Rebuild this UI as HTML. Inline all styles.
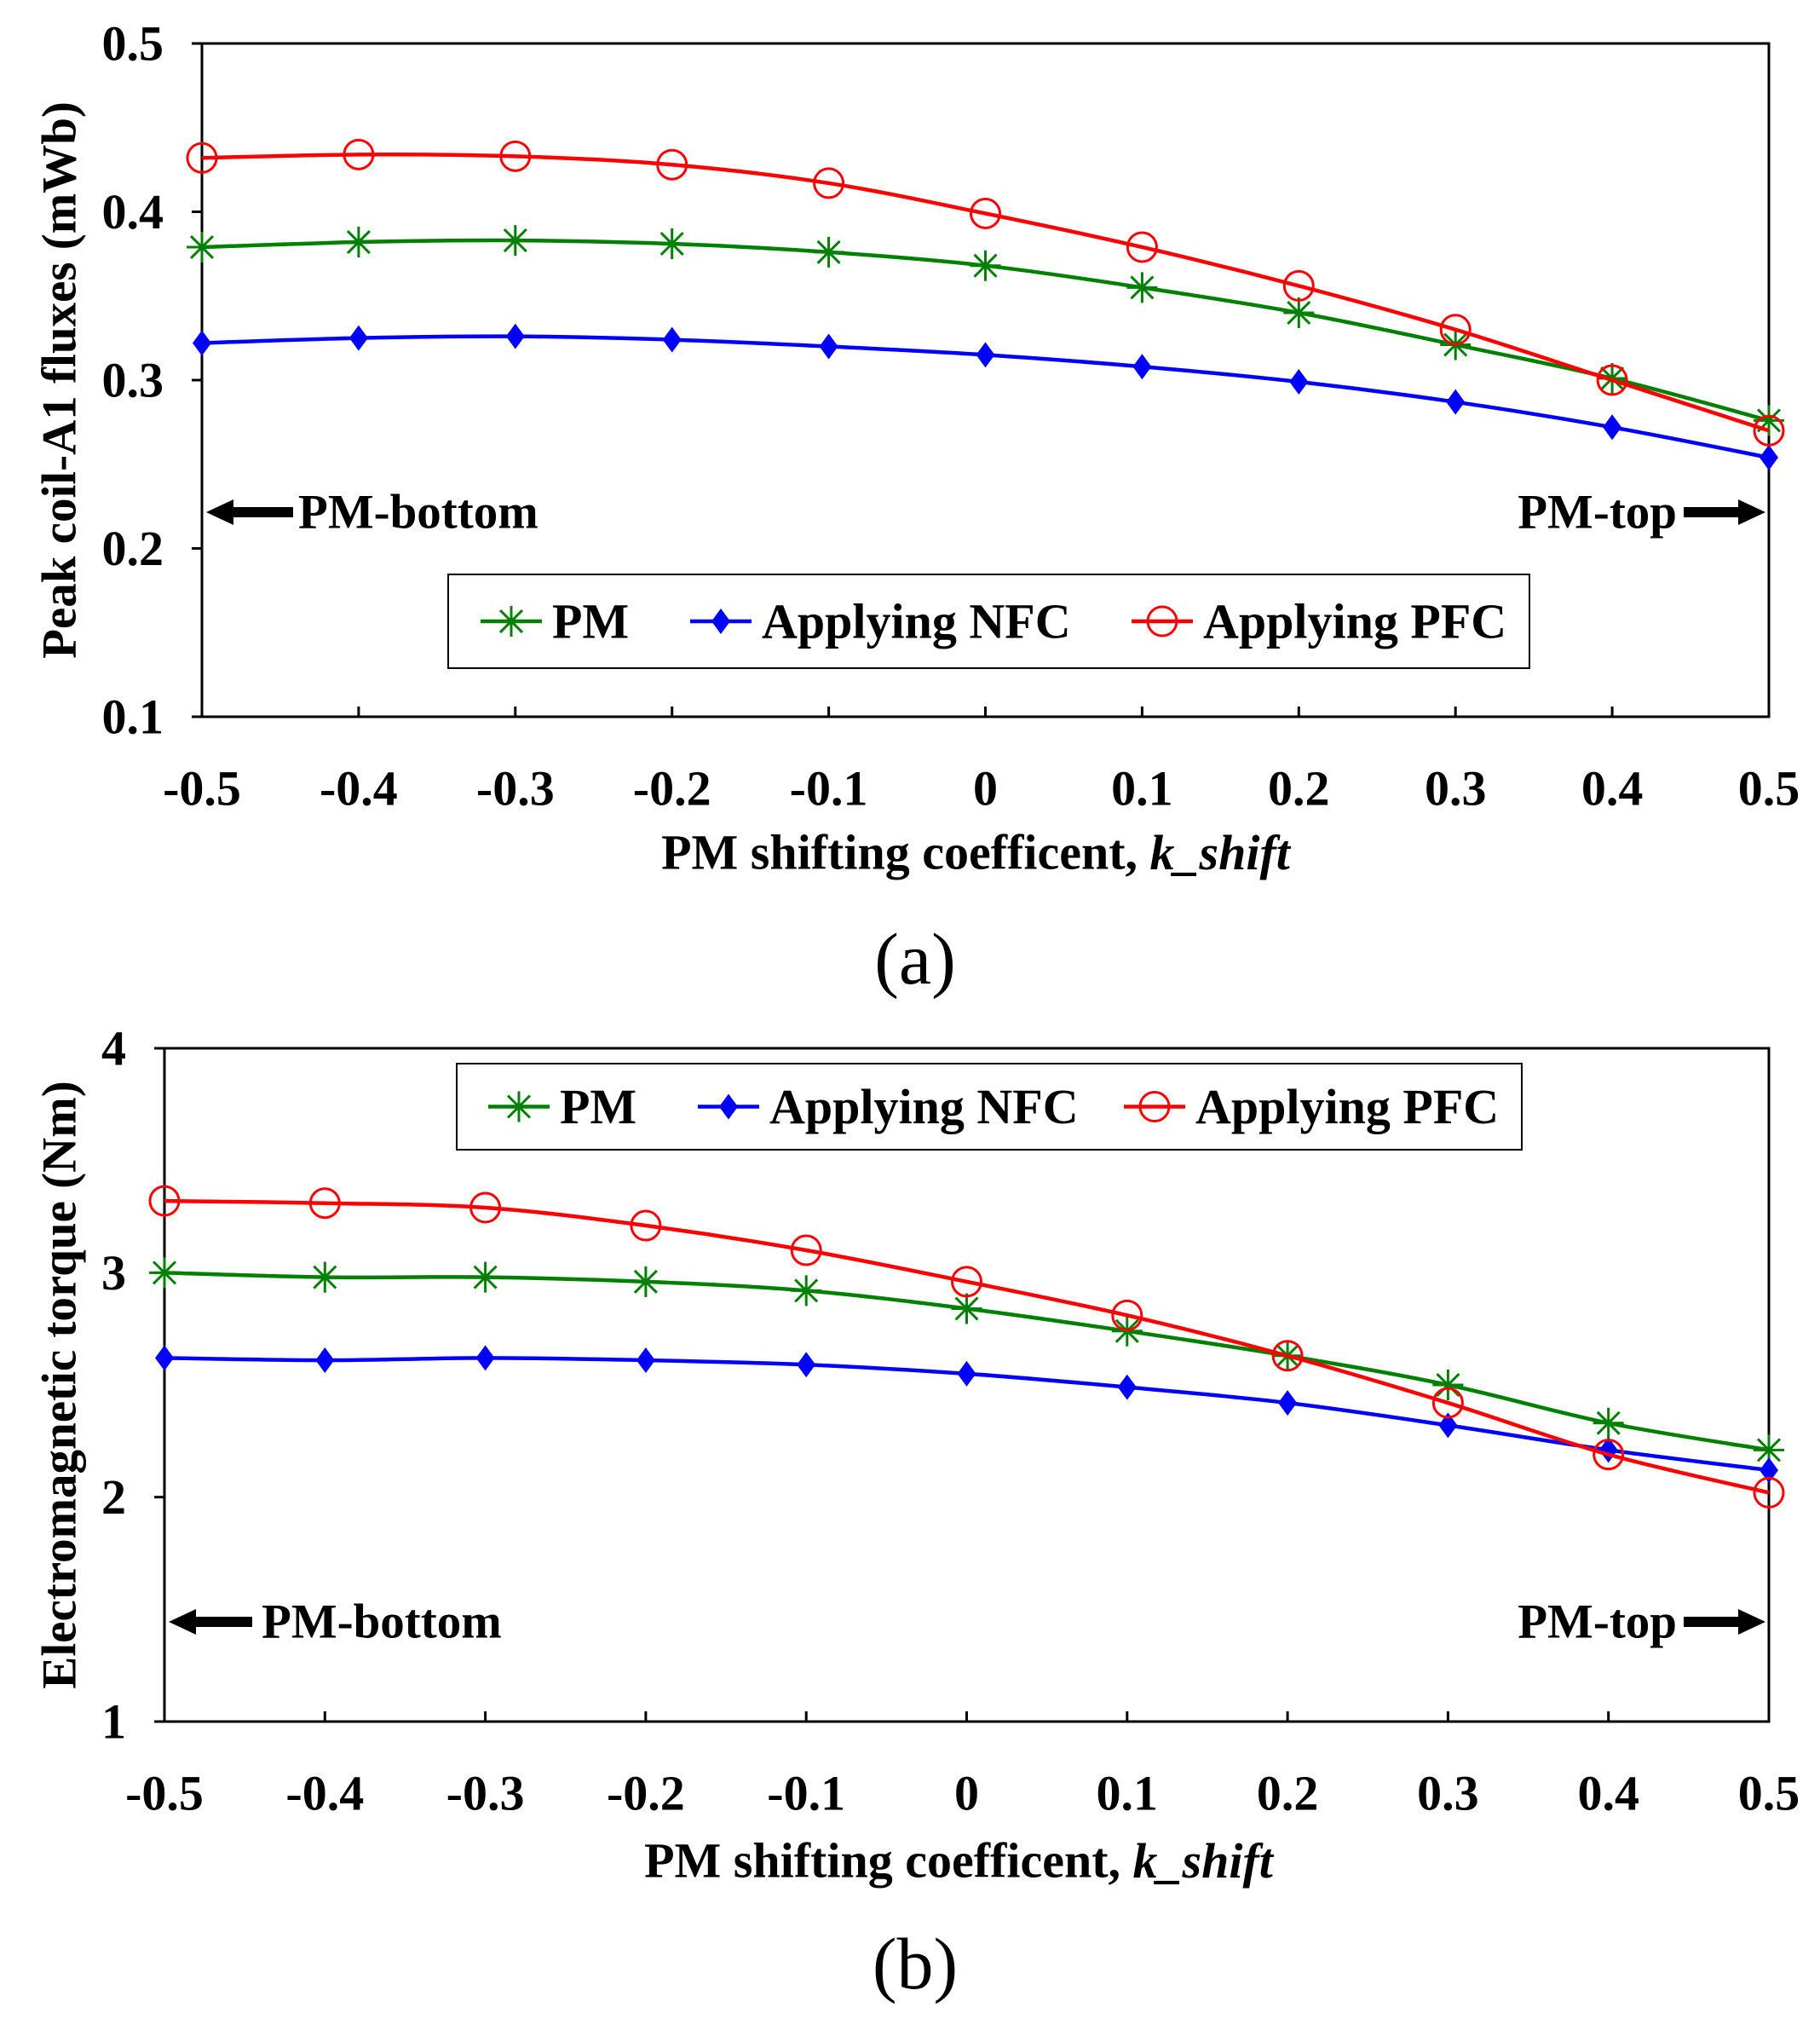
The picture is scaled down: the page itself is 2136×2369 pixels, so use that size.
<!DOCTYPE html>
<html><head><meta charset="utf-8"><style>
body{margin:0;background:#fff}
svg text{font-family:"Liberation Serif",serif;font-weight:bold;fill:#000}
</style></head><body>
<svg id="s" width="2136" height="2364" xmlns="http://www.w3.org/2000/svg"></svg>
<script>
const xCats=[-0.5,-0.4,-0.3,-0.2,-0.1,0,0.1,0.2,0.3,0.4,0.5];
const xTickLabels=["-0.5","-0.4","-0.3","-0.2","-0.1","0","0.1","0.2","0.3","0.4","0.5"];
const aPM=[0.379,0.382,0.383,0.381,0.376,0.368,0.355,0.340,0.321,0.301,0.276];
const aNFC=[0.322,0.325,0.326,0.324,0.320,0.315,0.308,0.299,0.287,0.272,0.254];
const aPFC=[0.432,0.434,0.433,0.428,0.417,0.399,0.379,0.356,0.330,0.300,0.270];
const aYTicks=[0.1,0.2,0.3,0.4,0.5];
const aYTickLabels=["0.1","0.2","0.3","0.4","0.5"];
const bPM=[3.00,2.98,2.98,2.96,2.92,2.84,2.74,2.63,2.50,2.33,2.21];
const bNFC=[2.62,2.61,2.62,2.61,2.59,2.55,2.49,2.42,2.32,2.21,2.12];
const bPFC=[3.32,3.31,3.29,3.21,3.10,2.96,2.81,2.63,2.42,2.19,2.02];
const bYTicks=[1,2,3,4];
const bYTickLabels=["1","2","3","4"];

const svg=document.getElementById('s');
const NS="http://www.w3.org/2000/svg";
function mk(tag,attrs,parent){const e=document.createElementNS(NS,tag);for(const k in attrs)e.setAttribute(k,attrs[k]);(parent||svg).appendChild(e);return e;}
function txt(x,y,s,size,anchor,parent,extra){const t=mk('text',Object.assign({x:x,y:y,'font-size':size,'text-anchor':anchor||'middle','dominant-baseline':'central'},extra||{}),parent);t.textContent=s;return t;}
function smooth(pts){let d='M'+pts[0][0]+','+pts[0][1];for(let i=0;i<pts.length-1;i++){const p0=pts[i-1]||pts[i],p1=pts[i],p2=pts[i+1],p3=pts[i+2]||p2;const c1=[p1[0]+(p2[0]-p0[0])/6,p1[1]+(p2[1]-p0[1])/6],c2=[p2[0]-(p3[0]-p1[0])/6,p2[1]-(p3[1]-p1[1])/6];d+=' C'+c1+' '+c2+' '+p2;}return d;}
function marker(type,x,y,g){
  if(type==='star'){const r=18;const p=mk('path',{d:`M${x-r},${y}H${x+r}M${x},${y-r}V${y+r}M${x-r*0.72},${y-r*0.72}L${x+r*0.72},${y+r*0.72}M${x-r*0.72},${y+r*0.72}L${x+r*0.72},${y-r*0.72}`,stroke:'#008000','stroke-width':3,fill:'none'},g);return p;}
  if(type==='dia'){return mk('path',{d:`M${x},${y-15}L${x+11},${y}L${x},${y+15}L${x-11},${y}Z`,fill:'#0000ff'},g);}
  return mk('circle',{cx:x,cy:y,r:17,fill:'none',stroke:'#ff0000','stroke-width':3},g);
}
function arrowL(x1,x2,y,g){mk('path',{d:`M${x1},${y}L${x1+32},${y-15}L${x1+32},${y-6}L${x2},${y-6}L${x2},${y+6}L${x1+32},${y+6}L${x1+32},${y+15}Z`,fill:'#000'},g);}
function arrowR(x1,x2,y,g){mk('path',{d:`M${x2},${y}L${x2-32},${y-15}L${x2-32},${y-6}L${x1},${y-6}L${x1},${y+6}L${x2-32},${y+6}L${x2-32},${y+15}Z`,fill:'#000'},g);}

function chart(cfg){
  const g=mk('g',{});
  const {L,R,T,B,ymin,ymax}=cfg;
  const xs=v=>L+(v-xCats[0])/(xCats[xCats.length-1]-xCats[0])*(R-L);
  const ys=v=>B-(v-ymin)/(ymax-ymin)*(B-T);
  const frame=mk('rect',{x:L,y:T,width:R-L,height:B-T,fill:'none',stroke:'#000','stroke-width':3},g);
  
  cfg.yt.forEach((v,i)=>{mk('line',{x1:L-12,x2:L,y1:ys(v),y2:ys(v),stroke:'#000','stroke-width':3},g);const t=txt(cfg.ylabX,ys(v),cfg.ytl[i],58,'end',g);});
  xCats.forEach((v,i)=>{mk('line',{x1:xs(v),x2:xs(v),y1:B,y2:B-12,stroke:'#000','stroke-width':3},g);const t=txt(xs(v),cfg.xlabY,xTickLabels[i],58,'middle',g);});
  const series=[[cfg.pm,'#008000','star','series-pm'],[cfg.nfc,'#0000ff','dia','series-nfc'],[cfg.pfc,'#ff0000','circ','series-pfc']];
  series.forEach(([d,c,m,n])=>{const sg=mk('g',{},g);
    const pts=d.map((v,i)=>[xs(xCats[i]),ys(v)]);
    mk('path',{d:smooth(pts),fill:'none',stroke:c,'stroke-width':4.5},sg);
    pts.forEach(p=>{const e=marker(m,p[0],p[1],sg);});});
  const lg=mk('g',{},g);
  const lb=cfg.leg;
  mk('rect',{x:lb.x,y:lb.y,width:lb.w,height:lb.h,fill:'#fff',stroke:'#000','stroke-width':2},lg);
  const cy=lb.y+lb.h/2;
  [[lb.m[0],'#008000','star','PM','legend-entry-pm'],[lb.m[1],'#0000ff','dia','Applying NFC','legend-entry-nfc'],[lb.m[2],'#ff0000','circ','Applying PFC','legend-entry-pfc']].forEach(([mx,c,m,s,n])=>{
    const eg=mk('g',{},lg);
    mk('line',{x1:mx-36,x2:mx+36,y1:cy,y2:cy,stroke:c,'stroke-width':4.5},eg);marker(m,mx,cy,eg);
    txt(mx+48,cy,s,58,'start',eg);});
  const ag=mk('g',{},g);
  arrowL(L+5,cfg.ab.ax2,cfg.ab.y,ag);txt(cfg.ab.tx,cfg.ab.y,'PM-bottom',57,'start',ag);
  const tg=mk('g',{},g);
  arrowR(1976,R-4,cfg.ab.y,tg);txt(1968,cfg.ab.y,'PM-top',57,'end',tg);
  const xt=txt(cfg.xtX,cfg.xtY,'',58,'middle',g);
  xt.innerHTML='PM shifting coefficent, <tspan font-style="italic">k_shift</tspan>';
  
  const yt=txt(0,0,cfg.ytitle,57,'middle',g,{transform:`translate(70,${(T+B)/2}) rotate(-90)`});
  
  const cap=txt(1074,cfg.capY,cfg.cap,86,'middle',g,{style:'font-weight:normal'});
  
}
chart({name:'chart-a',L:237,R:2076,T:51,B:841,ymin:0.1,ymax:0.5,yt:aYTicks,ytl:aYTickLabels,ylabX:192,xlabY:925,pm:aPM,nfc:aNFC,pfc:aPFC,
  leg:{x:526,y:674,w:1269,h:110,m:[600,846,1364]},ab:{y:601,ax2:344,tx:350},xtY:1000,xtX:1145,ytitle:'Peak coil-A1 fluxes (mWb)',capY:1125,cap:'(a)'});
chart({name:'chart-b',L:193,R:2076,T:1230,B:2020,ymin:1,ymax:4,yt:bYTicks,ytl:bYTickLabels,ylabX:148,xlabY:2104,pm:bPM,nfc:bNFC,pfc:bPFC,
  leg:{x:536,y:1248,w:1250,h:101,m:[609,855,1355]},ab:{y:1903,ax2:296,tx:307},xtY:2183,xtX:1125,ytitle:'Electromagnetic torque (Nm)',capY:2304,cap:'(b)'});
</script>
</body></html>
